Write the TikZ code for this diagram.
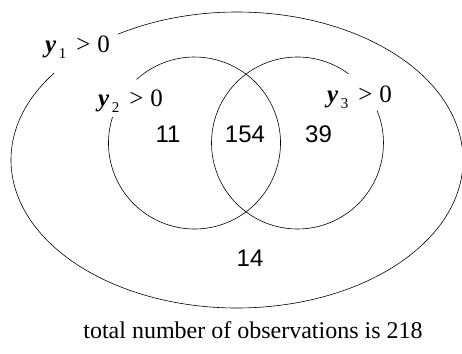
\documentclass[tikz,border=0pt]{standalone}
\usepackage{fontspec}
\setmainfont{Liberation Serif}
\newfontfamily\numfont{Liberation Sans}
\newcommand{\setlab}[1]{\textbf{\textit{y}}\hspace{2.5pt}\raisebox{-6pt}{\fontsize{15}{15}\selectfont #1}\hspace{10pt}>\hspace{7pt}0}
\begin{document}
\begin{tikzpicture}[x=1pt,y=1pt,
  curve/.style={line width=0.6pt},
  count/.style={font=\numfont\fontsize{24}{24}\selectfont, inner sep=0pt, anchor=base},
  setlabel/.style={font=\fontsize{25}{25}\selectfont, inner sep=0pt, anchor=base west},
  caption/.style={font=\fontsize{24}{24}\selectfont, inner sep=0pt, anchor=base}]
\useasboundingbox (0,0) rectangle (462,353);
% outer ellipse y1>0
\draw[curve] (237,193) ++(144:226 and 148) arc[start angle=144, end angle=481.8, x radius=226, y radius=148];
% left circle y2>0
\draw[curve] (194.5,210) ++(162.5:86) arc[start angle=162.5, end angle=492.4, radius=86];
% right circle y3>0
\draw[curve] (297.5,210) ++(53.7:86) arc[start angle=53.7, end angle=382.3, radius=86];
\node[setlabel] (l1) at (45,300) {\setlab{1}};
\node[setlabel] (l2) at (98,246) {\setlab{2}};
\node[setlabel] (l3) at (327,250) {\setlab{3}};
\node[count] (n11) at (168,210) {11};
\node[count] (n154) at (245,210) {154};
\node[count] (n39) at (318.5,210) {39};
\node[count] (n14) at (250,86) {14};
\node[caption] (cap) at (253,15) {total number of observations is 218};
\end{tikzpicture}
\end{document}
